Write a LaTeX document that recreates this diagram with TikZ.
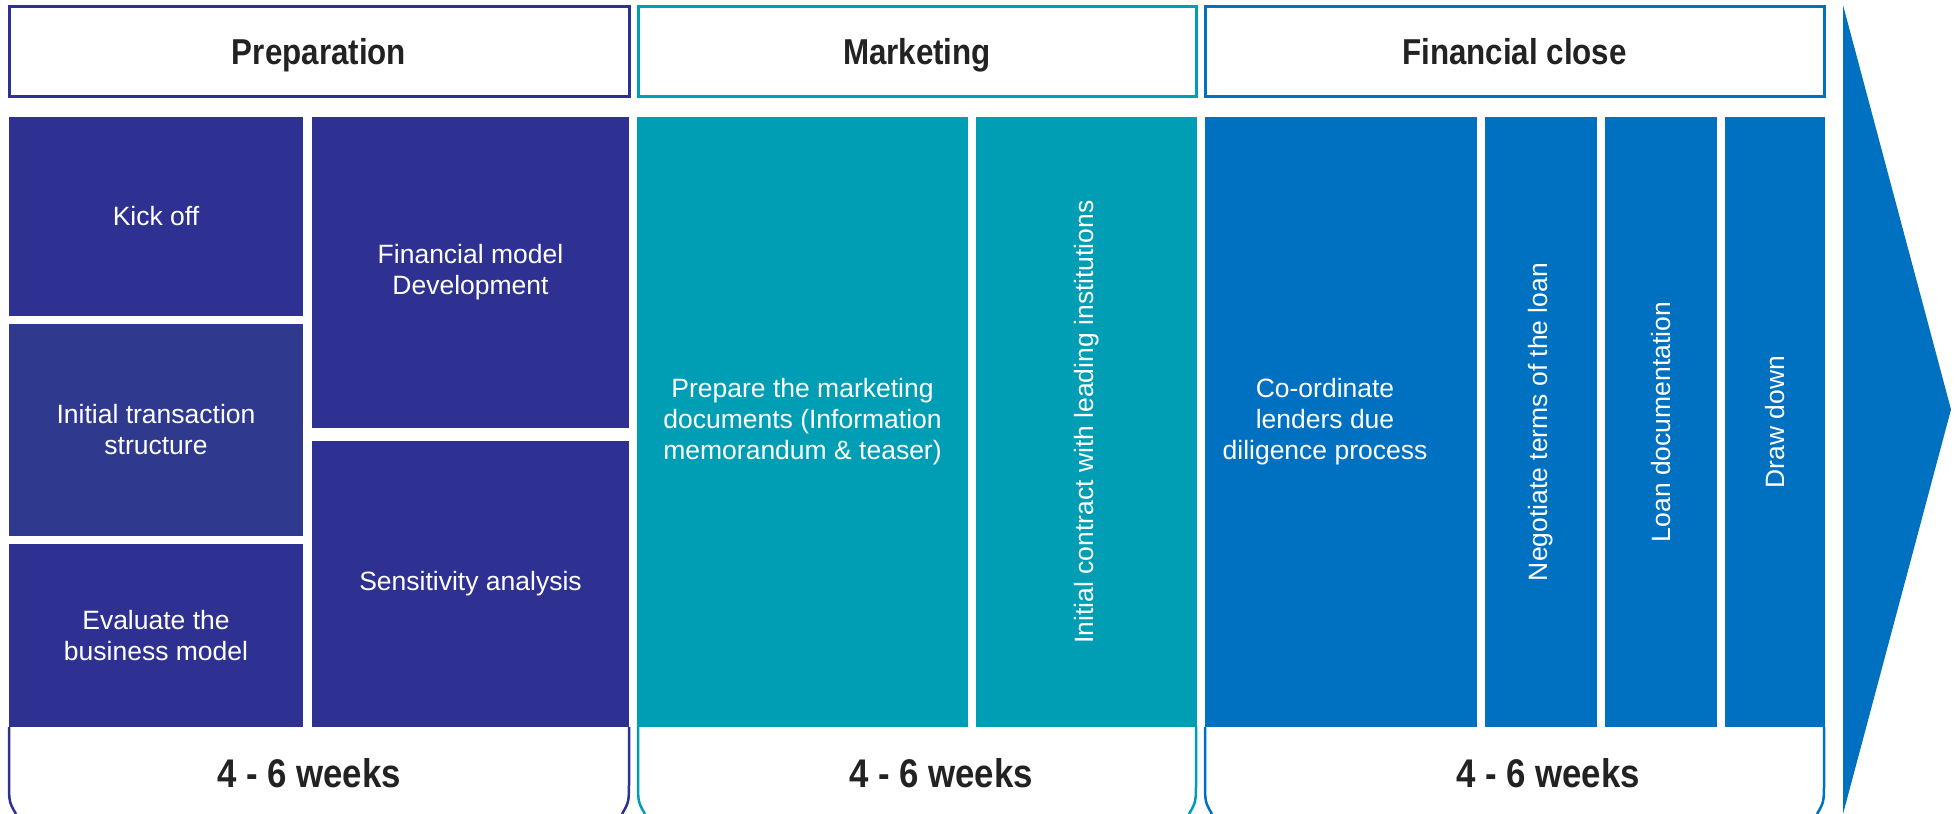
\documentclass[tikz,border=0pt]{standalone}
\usepackage{fontspec}
\setmainfont{Liberation Sans}
\newfontfamily\fonteNegrito[FakeStretch=0.87]{Liberation Sans Bold}

\definecolor{azulEscuro}{HTML}{2E3192}
\definecolor{azulEstrut}{HTML}{2F3A8F}
\definecolor{turquesa}{HTML}{009EB4}
\definecolor{azulFin}{HTML}{0070C0}
\definecolor{cinzaTexto}{HTML}{222222}

\begin{document}
\begin{tikzpicture}[
    x=1pt, y=-1pt,
    % Caixas de titulo das fases (borda na cor da fase)
    titulo/.style={draw, line width=3pt, fill=white, inner sep=0pt,
        text height=26pt, text depth=0pt,
        text=cinzaTexto, font=\fonteNegrito\fontsize{36}{40}\selectfont},
    semanas/.style={text=cinzaTexto, inner sep=0pt,
        text height=29pt, text depth=0pt,
        font=\fonteNegrito\fontsize{40}{44}\selectfont},
    bloco/.style={inner sep=0pt, outer sep=0pt},
    texto/.style={text=white, align=center, inner sep=0pt,
        font=\fontsize{26.5}{31}\selectfont},
    lateral/.style={line width=2.5pt}
]
\useasboundingbox (0,0) rectangle (1955,814);

% =========================================================
% === PARAMETROS DA GRADE (em pixels da figura) ===
% =========================================================
\def\topoBloco{117}  % topo dos blocos coloridos
\def\baseBloco{727}  % base dos blocos coloridos
\def\baseFig{814}    % borda inferior da figura
\def\yTitulo{51}     % centro dos titulos
\def\ySemanas{773}   % centro das duracoes
% =========================================================

% Macro para cada bloco colorido
% #1: nome do node
% (#2,#3): canto superior esquerdo, (#4,#5): canto inferior direito
% #6: cor de preenchimento
% #7: opcoes do texto (rotate, xshift...), #8: texto
\def\bloco#1(#2,#3)(#4,#5)[#6]#7#8{
    \node[bloco, fill=#6, minimum width={(#4-#2)*1pt}, minimum height={(#5-#3)*1pt}]
        (#1) at ({(#2+#4)/2},{(#3+#5)/2}) {};
    \node[texto, #7] (#1-txt) at (#1) {#8};
}

% --- Titulos das fases ---
\node[titulo, draw=azulEscuro, minimum width=620pt, minimum height=90pt] (tPrep) at (319,\yTitulo) {Preparation};
\node[titulo, draw=turquesa, minimum width=558pt, minimum height=90pt] (tMark) at (917,\yTitulo) {Marketing};
\node[titulo, draw=azulFin, minimum width=619pt, minimum height=90pt] (tFin) at (1514.5,\yTitulo) {Financial close};

% --- Laterais curvas abaixo dos blocos ---
\foreach \xa/\xb/\cor in {9/629/azulEscuro, 638/1196/turquesa, 1205/1824/azulFin}{
    \draw[lateral, \cor] (\xa,\baseBloco) -- (\xa,780) .. controls (\xa,802) .. ({\xa+7},\baseFig);
    \draw[lateral, \cor] (\xb,\baseBloco) -- (\xb,780) .. controls (\xb,802) .. ({\xb-7},\baseFig);
}

% --- PREPARATION ---
\bloco{kick}(9,\topoBloco)(303,316)[azulEscuro]{}{Kick off}
\bloco{estrut}(9,324)(303,536)[azulEstrut]{}{Initial transaction\\structure}
\bloco{avaliar}(9,544)(303,\baseBloco)[azulEscuro]{}{Evaluate the\\business model}
\bloco{modelo}(312,\topoBloco)(629,428)[azulEscuro]{}{Financial model\\Development}
\bloco{sensib}(312,441)(629,\baseBloco)[azulEscuro]{}{Sensitivity analysis}

% --- MARKETING ---
\bloco{docs}(637,\topoBloco)(968,\baseBloco)[turquesa]{}{Prepare the marketing\\documents (Information\\memorandum \& teaser)}
\bloco{contato}(976,\topoBloco)(1197,\baseBloco)[turquesa]{rotate=90}{Initial contract with leading institutions}

% --- FINANCIAL CLOSE ---
\bloco{coord}(1205,\topoBloco)(1477,\baseBloco)[azulFin]{xshift=-16pt}{Co-ordinate\\lenders due\\diligence process}
\bloco{negoc}(1485,\topoBloco)(1597,\baseBloco)[azulFin]{rotate=90}{Negotiate terms of the loan}
\bloco{docum}(1605,\topoBloco)(1717,\baseBloco)[azulFin]{rotate=90}{Loan documentation}
\bloco{saque}(1725,\topoBloco)(1825,\baseBloco)[azulFin]{rotate=90}{Draw down}

% --- Duracoes ---
\node[semanas] (semPrep) at (309,\ySemanas) {4 - 6 weeks};
\node[semanas] (semMark) at (941,\ySemanas) {4 - 6 weeks};
\node[semanas] (semFin) at (1548,\ySemanas) {4 - 6 weeks};

% --- Seta grande da direita ---
\fill[azulFin] (1843,5) -- (1951,409.5) -- (1843,\baseFig) -- cycle;

\end{tikzpicture}
\end{document}
